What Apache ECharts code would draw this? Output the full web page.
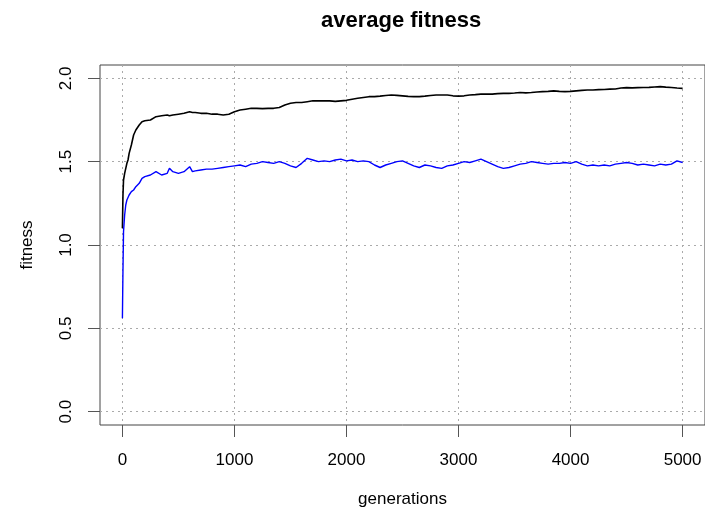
<!DOCTYPE html>
<html>
<head>
<meta charset="utf-8">
<script src="https://cdn.jsdelivr.net/npm/echarts@6/dist/echarts.min.js"></script>
<style>html,body{margin:0;padding:0;background:#fff}#c{width:705px;height:517px}</style>
</head>
<body>
<div id="c"></div>
<script>
const generations = [0,5,10,20,30,40,50,60,80,100,120,150,175,200,250,300,350,400,420,450,500,550,600,625,650,700,750,800,850,900,950,1000,1050,1100,1150,1200,1250,1300,1350,1400,1450,1500,1550,1600,1650,1700,1750,1800,1850,1900,1950,2000,2050,2100,2150,2200,2250,2300,2350,2400,2450,2500,2550,2600,2650,2700,2750,2800,2850,2900,2950,3000,3050,3100,3150,3200,3250,3300,3350,3400,3450,3500,3550,3600,3650,3700,3750,3800,3850,3900,3950,4000,4050,4100,4150,4200,4250,4300,4350,4400,4450,4500,4550,4600,4650,4700,4750,4800,4850,4900,4950,5000];
const bestFitness = [1.10,1.30,1.39,1.43,1.46,1.49,1.51,1.55,1.60,1.66,1.69,1.72,1.74,1.745,1.75,1.77,1.775,1.78,1.775,1.78,1.785,1.79,1.80,1.795,1.795,1.79,1.79,1.785,1.785,1.78,1.785,1.80,1.81,1.815,1.82,1.82,1.818,1.82,1.82,1.825,1.84,1.85,1.855,1.855,1.86,1.865,1.865,1.865,1.865,1.862,1.865,1.868,1.875,1.88,1.885,1.89,1.89,1.893,1.897,1.90,1.898,1.895,1.892,1.89,1.89,1.893,1.897,1.90,1.90,1.90,1.895,1.893,1.895,1.90,1.902,1.905,1.905,1.905,1.908,1.91,1.91,1.912,1.915,1.913,1.915,1.918,1.92,1.922,1.925,1.922,1.92,1.922,1.925,1.928,1.93,1.93,1.932,1.933,1.935,1.936,1.942,1.944,1.943,1.944,1.945,1.946,1.948,1.95,1.947,1.945,1.942,1.94];
const meanFitness = [0.56,0.85,1.08,1.18,1.24,1.27,1.28,1.30,1.32,1.33,1.35,1.37,1.40,1.41,1.42,1.44,1.42,1.43,1.46,1.44,1.43,1.44,1.47,1.44,1.445,1.45,1.455,1.455,1.46,1.465,1.47,1.475,1.48,1.47,1.485,1.49,1.50,1.495,1.49,1.50,1.49,1.475,1.465,1.49,1.52,1.51,1.50,1.505,1.50,1.51,1.515,1.505,1.51,1.50,1.505,1.50,1.48,1.465,1.48,1.49,1.50,1.505,1.49,1.475,1.465,1.48,1.475,1.465,1.46,1.475,1.48,1.49,1.50,1.495,1.505,1.515,1.50,1.485,1.47,1.46,1.465,1.475,1.485,1.49,1.50,1.495,1.49,1.485,1.49,1.49,1.495,1.49,1.50,1.485,1.475,1.48,1.475,1.48,1.475,1.485,1.49,1.495,1.49,1.48,1.485,1.48,1.475,1.485,1.48,1.485,1.505,1.495];
const xTicks = [0,1000,2000,3000,4000,5000];
const yTicks = [0,0.5,1,1.5,2];

const font = 'Liberation Sans, Arial, Helvetica, sans-serif';
const chart = echarts.init(document.getElementById('c'), null, {renderer:'canvas'});
chart.setOption({
  animation:false,
  backgroundColor:'#fff',
  title:{text:'average fitness', left:321, top:10, padding:0,
    textStyle:{fontFamily:font, fontSize:22, fontWeight:'bold', color:'#000'}},
  grid:{left:100, right:-2, top:65, bottom:92, show:true, borderColor:'#444', borderWidth:1, backgroundColor:'transparent'},
  xAxis:{type:'value', min:-200, max:5200,
    name:'generations', nameLocation:'middle', nameGap:66,
    nameTextStyle:{fontFamily:font, fontSize:17, color:'#000'},
    axisLine:{show:false, onZero:false},
    axisTick:{show:true, inside:false, customValues:xTicks, length:12, lineStyle:{color:'#555'}},
    axisLabel:{customValues:xTicks, fontFamily:font, fontSize:17, color:'#000', margin:27,
      formatter:v=>String(v)},
    splitLine:{show:true, lineStyle:{type:[2,4], color:'#aaa', width:1}}},
  yAxis:{type:'value', min:-0.08, max:2.08,
    name:'fitness', nameLocation:'middle', nameGap:64, nameRotate:90,
    nameTextStyle:{fontFamily:font, fontSize:17, color:'#000'},
    axisLine:{show:false, onZero:false},
    axisTick:{show:true, inside:false, customValues:yTicks, length:12, lineStyle:{color:'#555'}},
    axisLabel:{customValues:yTicks, rotate:90, fontFamily:font, fontSize:17, color:'#000', margin:25,
      formatter:v=>v.toFixed(1)},
    splitLine:{show:true, lineStyle:{type:[2,4], color:'#aaa', width:1}}},
  series:[
    {type:'line', data:generations.map((g,i)=>[g,bestFitness[i]]), showSymbol:false, lineStyle:{color:'#000', width:1.6}, itemStyle:{color:'#000'}},
    {type:'line', data:generations.map((g,i)=>[g,meanFitness[i]]), showSymbol:false, lineStyle:{color:'#0000ff', width:1.4}, itemStyle:{color:'#0000ff'}}
  ]
});
</script>
</body>
</html>
